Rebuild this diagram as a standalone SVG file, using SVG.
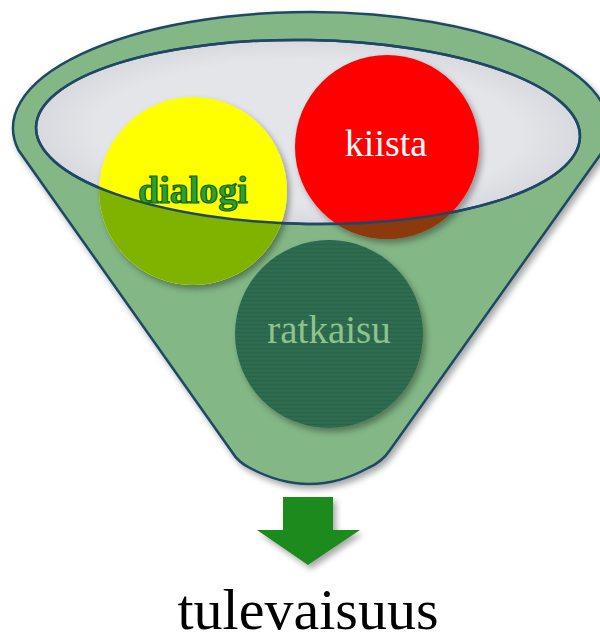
<svg xmlns="http://www.w3.org/2000/svg" width="600" height="633" viewBox="0 0 600 633">
  <style>
    .outline { stroke: #1f4866; stroke-width: 2.5; }
    text { font-family: "Liberation Serif", "Times New Roman", serif; text-anchor: middle; }
  </style>
  <defs>
    <filter id="shadow" x="-20%" y="-20%" width="140%" height="140%">
      <feDropShadow dx="3" dy="4" stdDeviation="3" flood-color="#000" flood-opacity="0.35"/>
    </filter>
    <radialGradient id="innerFill" cx="0.5" cy="0.5" r="0.5">
      <stop offset="0.78" stop-color="#e4e5e9"/>
      <stop offset="1" stop-color="#d8d9de"/>
    </radialGradient>
    <pattern id="stripes" width="6" height="4" patternUnits="userSpaceOnUse">
      <rect width="6" height="4" fill="#2e6c50"/>
      <rect width="6" height="1.2" fill="#2a6449"/>
    </pattern>
    <clipPath id="belowRim">
      <path clip-rule="evenodd" d="M0,0 H600 V633 H0 Z M36.04,127.25 A272 92 1 1 0 579.96,136.75 A272 92 1 1 0 36.04,127.25 Z"/>
    </clipPath>
  </defs>

  <g id="funnel">
    <path class="outline" fill="#83b786" filter="url(#shadow)" d="M18.4,150 A298 116 0 1 1 603.6,150 L390,450 Q382,462 368,468 Q310,500 250,468 Q238,462 232,452 Z"/>
    <ellipse class="outline" cx="308" cy="132" rx="272" ry="92" transform="rotate(1 308 132)" fill="url(#innerFill)"/>
  </g>

  <g id="circle-dialogi">
    <circle cx="193" cy="191" r="94" fill="#ffff00" filter="url(#shadow)"/>
    <circle cx="193" cy="191" r="94" fill="#80b200" clip-path="url(#belowRim)"/>
  </g>

  <g id="circle-kiista">
    <circle cx="387" cy="147" r="92" fill="#ff0000" filter="url(#shadow)"/>
    <circle cx="387" cy="147" r="92" fill="#8a3a0c" clip-path="url(#belowRim)"/>
  </g>

  <g id="rim-front">
    <ellipse class="outline" cx="308" cy="132" rx="272" ry="92" transform="rotate(1 308 132)" fill="none"/>
  </g>

  <g id="circle-ratkaisu">
    <circle cx="329" cy="334" r="94" fill="url(#stripes)" filter="url(#shadow)"/>
    <text x="329" y="343" font-size="39" fill="#8ec28e">ratkaisu</text>
  </g>

  <g id="label-dialogi">
    <text x="193" y="203" font-size="38" font-weight="bold" fill="#2fa02f" stroke="#0d650d" stroke-width="1.2">dialogi</text>
  </g>

  <g id="label-kiista">
    <text x="386" y="156" font-size="38" fill="#ffffff">kiista</text>
  </g>

  <g id="connectors">
    <path fill="#1e8a1e" filter="url(#shadow)" d="M283,497 H333 V530 H360 L308,565 L257,530 H283 Z"/>
  </g>

  <g id="label-tulevaisuus">
    <text x="308" y="629" font-size="58" fill="#000000">tulevaisuus</text>
  </g>
</svg>
